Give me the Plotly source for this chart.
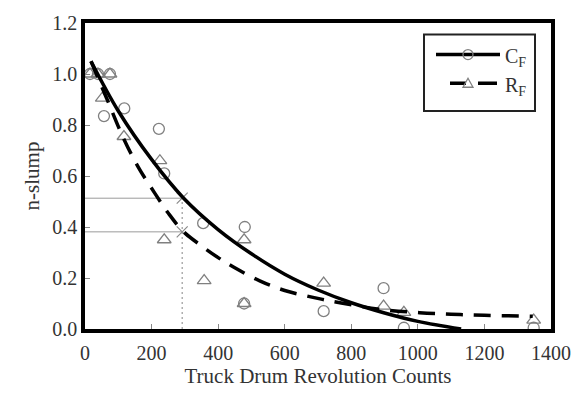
import plotly.graph_objects as go

# ---------------- data ----------------
cf_x = [15, 39, 75, 57, 118, 222, 238, 355, 480, 478, 717, 897, 958, 1348]
cf_y = [1.00, 1.00, 1.00, 0.835, 0.865, 0.785, 0.61, 0.415, 0.40, 0.10, 0.07, 0.16, 0.005, 0.005]

rf_x = [15, 39, 75, 52, 117, 225, 238, 358, 478, 478, 717, 897, 958, 1348]
rf_y = [1.00, 1.00, 1.00, 0.905, 0.755, 0.66, 0.35, 0.19, 0.35, 0.10, 0.18, 0.09, 0.065, 0.035]

cf_curve_x = [18, 100, 200, 295, 400, 500, 600, 700, 800, 900, 1000, 1130]
cf_curve_y = [1.05, 0.855, 0.665, 0.515, 0.39, 0.295, 0.215, 0.153, 0.103, 0.063, 0.03, 0.0]

rf_curve_x = [18, 65, 115, 160, 210, 250, 295, 350, 400, 450, 525, 600, 685, 770, 895, 1005, 1100, 1200, 1345]
rf_curve_y = [1.05, 0.905, 0.75, 0.635, 0.532, 0.455, 0.383, 0.326, 0.28, 0.24, 0.189, 0.151, 0.124, 0.102,
              0.076, 0.064, 0.058, 0.054, 0.05]

ref_x = 292
ref_y = [0.513, 0.381]

x_ticks = [0, 200, 400, 600, 800, 1000, 1200, 1400]
y_ticks = [0.0, 0.2, 0.4, 0.6, 0.8, 1.0, 1.2]

x_title = "Truck Drum Revolution Counts"
y_title = "n-slump"
legend_names = ["C<sub>F</sub>", "R<sub>F</sub>"]

# ---------------- layout geometry ----------------
W, H = 586, 396
L, R, T, B = 85, 35, 18, 58
PW, PH = W - L - R, H - T - B


def px(xp):
    return (xp - L) / PW


def py(yp):
    return (H - B - yp) / PH


FONT = "Liberation Serif, Times New Roman, serif"
GRAY = "#808080"

fig = go.Figure()

# reference lines
for yv in ref_y:
    fig.add_trace(go.Scatter(x=[0, ref_x], y=[yv, yv], mode="lines",
                             line=dict(color="#9a9a9a", width=1), showlegend=False, hoverinfo="skip"))
fig.add_trace(go.Scatter(x=[ref_x, ref_x], y=[0, ref_y[0]], mode="lines",
                         line=dict(color="#9a9a9a", width=1.2, dash="2px,3px"), showlegend=False, hoverinfo="skip"))
fig.add_trace(go.Scatter(x=[ref_x, ref_x], y=ref_y, mode="markers",
                         marker=dict(symbol="x-thin", size=11, line=dict(color="#8a8a8a", width=1.2)),
                         showlegend=False, hoverinfo="skip"))

# data markers
fig.add_trace(go.Scatter(x=cf_x, y=cf_y, mode="markers", name="CF pts",
                         marker=dict(symbol="circle-open", size=11, color=GRAY, line=dict(width=1.3)),
                         showlegend=False))
fig.add_trace(go.Scatter(x=rf_x, y=rf_y, mode="markers", name="RF pts",
                         marker=dict(symbol="triangle-up-open", size=12, color=GRAY, line=dict(width=1.3)),
                         showlegend=False))

# fitted curves
fig.add_trace(go.Scatter(x=rf_curve_x, y=rf_curve_y, mode="lines", line_shape="spline",
                         line=dict(color="black", width=3.5, dash="17px,11px"), showlegend=False))
fig.add_trace(go.Scatter(x=cf_curve_x, y=cf_curve_y, mode="lines", line_shape="spline",
                         line=dict(color="black", width=3.5), showlegend=False))

# ---------------- manual legend ----------------
shapes = []
shapes.append(dict(type="rect", xref="paper", yref="paper", x0=px(424), x1=px(535), y0=py(110), y1=py(30),
                   line=dict(color="#222", width=2), fillcolor="white", layer="above"))
# row 1 solid + circle
shapes.append(dict(type="line", xref="paper", yref="paper", x0=px(436), x1=px(500), y0=py(51), y1=py(51),
                   line=dict(color="black", width=3.5), layer="above"))
shapes.append(dict(type="circle", xref="paper", yref="paper", xsizemode="pixel", ysizemode="pixel",
                   xanchor=px(468), yanchor=py(51), x0=-5, x1=5, y0=-5, y1=5,
                   line=dict(color=GRAY, width=1.3), fillcolor="rgba(0,0,0,0)", layer="above"))
# row 2 dashed + triangle
shapes.append(dict(type="line", xref="paper", yref="paper", x0=px(450), x1=px(466), y0=py(81), y1=py(81),
                   line=dict(color="black", width=3.5), layer="above"))
shapes.append(dict(type="line", xref="paper", yref="paper", x0=px(478), x1=px(497), y0=py(81), y1=py(81),
                   line=dict(color="black", width=3.5), layer="above"))
shapes.append(dict(type="path", xref="paper", yref="paper", xsizemode="pixel", ysizemode="pixel",
                   xanchor=px(468), yanchor=py(81), path="M -5,-4 L 5,-4 L 0,5 Z",
                   line=dict(color=GRAY, width=1.3), fillcolor="rgba(0,0,0,0)", layer="above"))

annotations = []
for name, yp in zip(legend_names, [54, 84]):
    annotations.append(dict(text=name, xref="paper", yref="paper", x=px(503), y=py(yp), xanchor="left",
                            yanchor="middle", showarrow=False, font=dict(family=FONT, size=20, color="#333")))

fig.update_layout(
    width=W, height=H,
    margin=dict(l=L, r=R, t=T, b=B),
    paper_bgcolor="white", plot_bgcolor="white",
    font=dict(family=FONT, size=20, color="#333"),
    shapes=shapes, annotations=annotations,
    showlegend=False,
)
fig.update_xaxes(range=[0, 1400], tickvals=x_ticks, ticktext=[str(v) for v in x_ticks],
                 ticks="inside", ticklen=5, tickcolor="#888", tickwidth=1,
                 showline=True, linecolor="black", linewidth=3.5, mirror=True,
                 showgrid=False, zeroline=False, ticklabelstandoff=3,
                 title=dict(text=x_title, font=dict(family=FONT, size=21, color="#333"), standoff=6),
                 tickfont=dict(family=FONT, size=20, color="#333"))
fig.update_yaxes(range=[0, 1.2], tickvals=y_ticks, ticktext=[f"{v:.1f}" for v in y_ticks],
                 ticks="inside", ticklen=5, tickcolor="#888", tickwidth=1,
                 showline=True, linecolor="black", linewidth=3.5, mirror=True,
                 showgrid=False, zeroline=False,
                 title=dict(text=y_title, font=dict(family=FONT, size=21, color="#333"), standoff=8),
                 tickfont=dict(family=FONT, size=20, color="#333"))

fig.write_html("out.html")
